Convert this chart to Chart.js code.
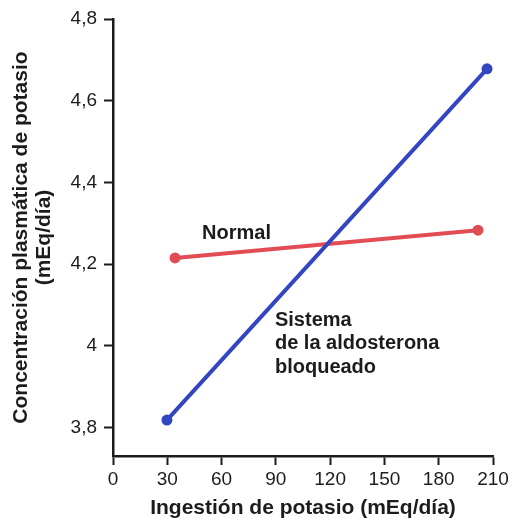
<!DOCTYPE html>
<html><head><meta charset="utf-8">
<script src="https://cdn.jsdelivr.net/npm/chart.js@4/dist/chart.umd.min.js"></script>
<style>html,body{margin:0;padding:0;background:#fff}#wrap{width:513px;height:524px}</style>
</head><body><div id="wrap"><canvas id="c"></canvas></div>
<script>
// Data
const normalX = [34.3, 201.7];
const normalY = [4.215, 4.283];
const blockedX = [29.8, 206.7];
const blockedY = [3.818, 4.678];
const xTickValues = [0, 30, 60, 90, 120, 150, 180, 210];
const yTickValues = [3.8, 4.0, 4.2, 4.4, 4.6, 4.8];
const yTickLabels = ['3,8', '4', '4,2', '4,4', '4,6', '4,8'];
const seriesNames = ['Sistema de la aldosterona bloqueado', 'Normal'];
const annotationTexts = [['Normal'], ['Sistema', 'de la aldosterona', 'bloqueado']];
const annotationAnchors = [[49.2, 4.276], [89.5, 4.062]];

const RED = '#e24c55';
const BLUE = '#3346c2';
const INK = '#1c1c1c';
const SANS = '"Liberation Sans", Arial, Helvetica, sans-serif';

const annotPlugin = {
  id: 'annot',
  afterDatasetsDraw(chart) {
    const ctx = chart.ctx, xs = chart.scales.x, ys = chart.scales.y;
    ctx.save();
    ctx.fillStyle = INK;
    ctx.font = 'bold 20px ' + SANS;
    ctx.textAlign = 'left';
    ctx.textBaseline = 'middle';
    annotationTexts.forEach((lines, i) => {
      const px = xs.getPixelForValue(annotationAnchors[i][0]);
      const py = ys.getPixelForValue(annotationAnchors[i][1]);
      lines.forEach((t, j) => ctx.fillText(t, px, py + j * 23.5));
    });
    ctx.restore();
  }
};

new Chart(document.getElementById('c'), {
  type: 'line',
  data: {
    datasets: [
      {
        label: seriesNames[0],
        data: blockedX.map((x, i) => ({x, y: blockedY[i]})),
        borderColor: BLUE, backgroundColor: BLUE,
        borderWidth: 4, pointRadius: 5.5, pointHoverRadius: 5.5,
        pointBorderWidth: 0, tension: 0
      },
      {
        label: seriesNames[1],
        data: normalX.map((x, i) => ({x, y: normalY[i]})),
        borderColor: RED, backgroundColor: RED,
        borderWidth: 4, pointRadius: 5.5, pointHoverRadius: 5.5,
        pointBorderWidth: 0, tension: 0
      }
    ]
  },
  options: {
    responsive: true,
    maintainAspectRatio: false,
    animation: false,
    layout: {padding: {top: 19, right: 20, left: 0, bottom: 0}},
    plugins: {legend: {display: false}, tooltip: {enabled: false}},
    scales: {
      x: {
        type: 'linear', min: 0, max: 210,
        afterBuildTicks: s => { s.ticks = xTickValues.map(v => ({value: v})); },
        afterFit: s => { s.height = 68; },
        border: {display: true, color: INK, width: 2.5},
        grid: {drawOnChartArea: false, drawTicks: true, tickLength: 9, tickColor: INK, tickWidth: 2},
        ticks: {color: INK, font: {family: SANS, size: 19}, padding: 3, maxRotation: 0, autoSkip: false},
        title: {display: true, text: 'Ingestión de potasio (mEq/día)', color: INK,
                font: {family: SANS, size: 21, weight: 'bold'}, padding: {top: 0, bottom: 3}}
      },
      y: {
        type: 'linear', min: 3.73, max: 4.8,
        afterBuildTicks: s => { s.ticks = yTickValues.map(v => ({value: v})); },
        afterFit: s => { s.width = 113; },
        border: {display: true, color: INK, width: 2.5},
        grid: {drawOnChartArea: false, drawTicks: true, tickLength: 9, tickColor: INK, tickWidth: 2},
        ticks: {color: INK, font: {family: SANS, size: 19}, padding: 7, autoSkip: false,
                callback: (v) => { const k = yTickValues.findIndex(t => Math.abs(t - v) < 1e-6); return k >= 0 ? yTickLabels[k] : ''; }},
        title: {display: true, text: ['Concentración plasmática de potasio', '(mEq/día)'], color: INK,
                font: {family: SANS, size: 21, weight: 'bold', lineHeight: 1.1}, padding: {top: 10, bottom: 0}}
      }
    }
  },
  plugins: [annotPlugin]
});
</script>
</body></html>
